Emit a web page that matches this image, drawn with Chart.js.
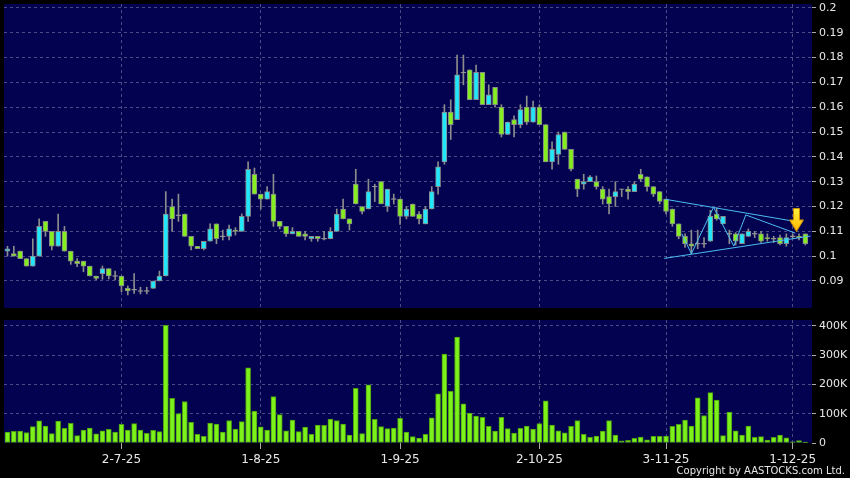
<!DOCTYPE html>
<html>
<head>
<meta charset="utf-8">
<script src="https://cdn.jsdelivr.net/npm/chart.js@4.4.1/dist/chart.umd.min.js"></script>
<style>
  body { margin: 0; background: #000; width: 850px; height: 478px; overflow: hidden; position: relative; }
  canvas { position: absolute; left: 0; }
  #priceChart { top: 0; }
  #volChart { top: 312px; }
  #copy { position: absolute; right: 5px; top: 465px; color: #e6e6e6; font: 10px 'DejaVu Sans', sans-serif; }
</style>
</head>
<body>
<canvas id="priceChart" width="850" height="312"></canvas>
<canvas id="volChart" width="850" height="166"></canvas>
<div id="copy">Copyright by AASTOCKS.com Ltd.</div>
<script>
// daily OHLC, one entry per trading day (index 0 = first candle)
const opens = [
  0.102, 0.101, 0.102, 0.099, 0.096, 0.100, 0.114, 0.110, 0.104, 0.110,
  0.102, 0.098, 0.098, 0.096, 0.092, 0.093, 0.095, 0.092, 0.092, 0.087,
  0.0865, 0.086, 0.086, 0.087, 0.090, 0.092, 0.120, 0.1165, 0.117, 0.108,
  0.104, 0.103, 0.106, 0.113, 0.108, 0.108, 0.1105, 0.110, 0.116, 0.133,
  0.125, 0.123, 0.125, 0.114, 0.112, 0.109, 0.110, 0.109, 0.107, 0.108,
  0.107, 0.107, 0.110, 0.119, 0.115, 0.129, 0.120, 0.119, 0.128, 0.130,
  0.120, 0.123, 0.123, 0.116, 0.121, 0.117, 0.113, 0.119, 0.128, 0.138,
  0.158, 0.155, 0.174, 0.175, 0.163, 0.174, 0.161, 0.168, 0.160, 0.149,
  0.155, 0.153, 0.160, 0.154, 0.160, 0.153, 0.138, 0.141, 0.150, 0.143,
  0.131, 0.129, 0.130, 0.130, 0.127, 0.124, 0.124, 0.127, 0.127, 0.126,
  0.133, 0.132, 0.128, 0.126, 0.123, 0.119, 0.113, 0.108, 0.105, 0.105,
  0.105, 0.106, 0.117, 0.113, 0.109, 0.109, 0.105, 0.108, 0.109, 0.109,
  0.1075, 0.107, 0.1075, 0.105, 0.108, 0.108, 0.109
];
const highs = [
  0.104, 0.104, 0.102, 0.099, 0.107, 0.115, 0.114, 0.110, 0.117, 0.112,
  0.102, 0.099, 0.098, 0.096, 0.092, 0.096, 0.095, 0.094, 0.092, 0.088,
  0.093, 0.0875, 0.0875, 0.090, 0.094, 0.126, 0.123, 0.125, 0.117, 0.108,
  0.104, 0.106, 0.113, 0.113, 0.1105, 0.1125, 0.1115, 0.117, 0.138, 0.1355,
  0.125, 0.128, 0.133, 0.114, 0.112, 0.1115, 0.110, 0.110, 0.108, 0.108,
  0.110, 0.1115, 0.119, 0.123, 0.115, 0.135, 0.120, 0.131, 0.129, 0.130,
  0.127, 0.125, 0.123, 0.120, 0.121, 0.118, 0.120, 0.128, 0.138, 0.161,
  0.163, 0.181, 0.181, 0.175, 0.177, 0.174, 0.169, 0.168, 0.161, 0.154,
  0.1565, 0.161, 0.1645, 0.1625, 0.161, 0.153, 0.146, 0.150, 0.150, 0.143,
  0.131, 0.133, 0.1325, 0.1323, 0.128, 0.127, 0.130, 0.127, 0.128, 0.130,
  0.135, 0.132, 0.128, 0.126, 0.123, 0.119, 0.113, 0.109, 0.1105, 0.1105,
  0.1075, 0.1185, 0.1195, 0.116, 0.1105, 0.1095, 0.109, 0.111, 0.110, 0.110,
  0.109, 0.108, 0.1085, 0.109, 0.109, 0.109, 0.109
];
const lows = [
  0.100, 0.100, 0.099, 0.096, 0.096, 0.100, 0.108, 0.1025, 0.104, 0.102,
  0.0967, 0.0958, 0.0937, 0.092, 0.0905, 0.0907, 0.0908, 0.0904, 0.0857, 0.0844,
  0.085, 0.0848, 0.0848, 0.087, 0.090, 0.092, 0.110, 0.114, 0.108, 0.1025,
  0.103, 0.1025, 0.106, 0.105, 0.1065, 0.1065, 0.1085, 0.110, 0.114, 0.125,
  0.119, 0.123, 0.112, 0.111, 0.108, 0.109, 0.108, 0.1065, 0.106, 0.106,
  0.1065, 0.107, 0.110, 0.115, 0.1105, 0.121, 0.117, 0.119, 0.122, 0.121,
  0.118, 0.121, 0.1128, 0.115, 0.116, 0.113, 0.113, 0.119, 0.125, 0.137,
  0.147, 0.155, 0.169, 0.163, 0.163, 0.161, 0.161, 0.160, 0.148, 0.149,
  0.148, 0.1517, 0.153, 0.154, 0.153, 0.138, 0.135, 0.137, 0.143, 0.1343,
  0.124, 0.127, 0.130, 0.127, 0.121, 0.117, 0.120, 0.124, 0.123, 0.126,
  0.130, 0.1262, 0.124, 0.121, 0.117, 0.112, 0.107, 0.1035, 0.101, 0.103,
  0.1035, 0.106, 0.1145, 0.113, 0.105, 0.1045, 0.105, 0.108, 0.1075, 0.1055,
  0.106, 0.1055, 0.1045, 0.104, 0.107, 0.1065, 0.1045
];
const closes = [
  0.103, 0.100, 0.099, 0.096, 0.100, 0.112, 0.110, 0.104, 0.110, 0.102,
  0.098, 0.097, 0.096, 0.092, 0.091, 0.095, 0.092, 0.092, 0.088, 0.086,
  0.0865, 0.086, 0.086, 0.090, 0.092, 0.117, 0.115, 0.1165, 0.108, 0.104,
  0.103, 0.106, 0.111, 0.107, 0.108, 0.111, 0.110, 0.116, 0.135, 0.125,
  0.123, 0.126, 0.114, 0.112, 0.109, 0.110, 0.108, 0.108, 0.108, 0.107,
  0.107, 0.110, 0.117, 0.115, 0.113, 0.121, 0.118, 0.126, 0.128, 0.121,
  0.127, 0.123, 0.116, 0.119, 0.116, 0.115, 0.119, 0.126, 0.136, 0.158,
  0.153, 0.173, 0.174, 0.163, 0.174, 0.161, 0.165, 0.161, 0.149, 0.154,
  0.153, 0.159, 0.154, 0.160, 0.153, 0.138, 0.143, 0.149, 0.143, 0.135,
  0.127, 0.130, 0.132, 0.128, 0.123, 0.121, 0.126, 0.127, 0.126, 0.129,
  0.131, 0.128, 0.125, 0.122, 0.118, 0.113, 0.108, 0.105, 0.104, 0.105,
  0.105, 0.116, 0.115, 0.116, 0.109, 0.106, 0.109, 0.110, 0.109, 0.106,
  0.107, 0.107, 0.105, 0.1075, 0.108, 0.1075, 0.105
];
// daily volume, thousands of shares
const volumes = [
  37, 40, 41, 36, 56, 76, 58, 32, 75, 50,
  67, 25, 44, 51, 31, 42, 47, 37, 64, 44,
  66, 44, 33, 43, 39, 402, 153, 101, 142, 71,
  30, 23, 68, 65, 37, 77, 48, 73, 257, 109,
  55, 44, 159, 97, 42, 78, 39, 54, 30, 61,
  60, 82, 77, 65, 27, 187, 32, 199, 81, 56,
  49, 51, 84, 37, 22, 17, 30, 86, 168, 304,
  177, 362, 134, 102, 92, 88, 57, 41, 88, 49,
  34, 50, 58, 48, 66, 144, 61, 42, 35, 57,
  77, 30, 19, 24, 41, 77, 27, 7, 9, 16,
  20, 11, 23, 23, 24, 57, 64, 78, 58, 154,
  94, 172, 147, 25, 106, 42, 27, 58, 19, 22,
  10, 19, 27, 18, 4, 8, 3
];

const dateTickIdx = [18, 40, 62, 84, 104, 124];
const dateTickLabels = ['2-7-25', '1-8-25', '1-9-25', '2-10-25', '3-11-25', '1-12-25'];
const priceTicks = [0.09, 0.1, 0.11, 0.12, 0.13, 0.14, 0.15, 0.16, 0.17, 0.18, 0.19, 0.2];
const volTicks = [0, 100000, 200000, 300000, 400000];
const volTickLabels = ['0', '100K', '200K', '300K', '400K'];

// triangle drawn on the chart (index, price)
const triUpper = [{ x: 103.9, y: 0.1229 }, { x: 125.5, y: 0.1135 }];
const triLower = [{ x: 103.7, y: 0.0991 }, { x: 126.8, y: 0.1081 }];
const zigzag = [
  { x: 106.5, y: 0.109 }, { x: 108, y: 0.101 }, { x: 111.5, y: 0.1197 },
  { x: 114.7, y: 0.1041 }, { x: 116.6, y: 0.1166 }, { x: 124.4, y: 0.1093 }
];
const arrowAt = [{ x: 124.6, y: 0.1146 }];

const NAVY = '#020250';
const GRID = 'rgba(150,150,185,0.5)';
const UP = '#22e6fa';
const DOWN = '#84ee1e';
const FLAT = '#a0a0a0';
const LABEL = '#e8e8e8';
const X_MIN = -0.55, X_MAX = 127.05;

const plotBg = {
  id: 'plotBg',
  beforeDraw(chart) {
    const { ctx, chartArea: a } = chart;
    ctx.save();
    ctx.fillStyle = NAVY;
    ctx.fillRect(a.left, a.top, a.right - a.left, a.bottom - a.top);
    ctx.restore();
  }
};

const setTicks = values => scale => { scale.ticks = values.map(v => ({ value: v })); };

const idx = opens.map((_, i) => i);
const wickData = idx.map(i => ({ x: i, y: [lows[i], highs[i]] }));
const bodyData = idx.map(i => {
  let lo = Math.min(opens[i], closes[i]);
  let hi = Math.max(opens[i], closes[i]);
  if (hi - lo < 0.0003) {
    const m = (lo + hi) / 2;
    lo = m - 0.00015;
    hi = m + 0.00015;
  }
  return { x: i, y: [lo, hi] };
});
const bodyColors = idx.map(i => closes[i] > opens[i] ? UP : closes[i] < opens[i] ? DOWN : FLAT);

function makeArrow() {
  const c = document.createElement('canvas');
  c.width = 15;
  c.height = 24;
  const g = c.getContext('2d');
  const grad = g.createLinearGradient(0, 0, 0, 24);
  grad.addColorStop(0, '#fff23c');
  grad.addColorStop(1, '#ffb400');
  g.fillStyle = grad;
  g.strokeStyle = '#c98a00';
  g.beginPath();
  g.moveTo(4.5, 0.5); g.lineTo(10.5, 0.5); g.lineTo(10.5, 12);
  g.lineTo(14.5, 12); g.lineTo(7.5, 23.5); g.lineTo(0.5, 12); g.lineTo(4.5, 12);
  g.closePath();
  g.fill();
  g.stroke();
  return c;
}

const trendLine = (data) => ({
  type: 'line', data, borderColor: '#4cbcf0', borderWidth: 1,
  pointRadius: 0, fill: false, tension: 0, order: 2
});

Chart.defaults.font.family = "'DejaVu Sans', sans-serif";
Chart.defaults.animation = false;

new Chart(document.getElementById('priceChart'), {
  type: 'bar',
  data: {
    datasets: [
      { data: wickData, backgroundColor: '#8c8c8c', barThickness: 1, grouped: false, order: 4 },
      {
        data: bodyData, backgroundColor: bodyColors, borderColor: '#8a8a8a', borderWidth: 1,
        borderSkipped: false, barThickness: 5, grouped: false, order: 3
      },
      trendLine(triUpper),
      trendLine(triLower),
      trendLine(zigzag),
      { type: 'line', data: arrowAt, showLine: false, pointStyle: makeArrow(), pointRadius: 10, order: 1 }
    ]
  },
  options: {
    responsive: false,
    events: [],
    layout: { autoPadding: false, padding: { left: 4, top: 4, right: 0, bottom: 4 } },
    plugins: { legend: { display: false }, tooltip: { enabled: false } },
    scales: {
      x: {
        type: 'linear', min: X_MIN, max: X_MAX, offset: false,
        afterBuildTicks: setTicks(dateTickIdx),
        afterFit: s => { s.height = 0; s.paddingLeft = 0; s.paddingRight = 0; },
        ticks: { display: false },
        grid: { color: GRID, drawTicks: false, offset: false },
        border: { display: false, dash: [3, 3] }
      },
      y: {
        position: 'right', min: 0.079126, max: 0.201559,
        afterBuildTicks: setTicks(priceTicks),
        afterFit: s => { s.width = 38; s.paddingTop = 0; s.paddingBottom = 0; },
        ticks: {
          color: LABEL, font: { size: 11 }, padding: 3,
          callback: v => String(+v.toFixed(2))
        },
        grid: { color: GRID, tickLength: 4, tickColor: '#aaaaaa', tickBorderDash: [] },
        border: { display: false, dash: [3, 3] }
      }
    }
  },
  plugins: [plotBg]
});

new Chart(document.getElementById('volChart'), {
  type: 'bar',
  data: {
    datasets: [{
      data: idx.map(i => ({ x: i, y: volumes[i] * 1000 })),
      backgroundColor: '#7cf21a', borderColor: '#4d9c10', borderWidth: 1,
      borderSkipped: false, barThickness: 5, grouped: false
    }]
  },
  options: {
    responsive: false,
    events: [],
    layout: { autoPadding: false, padding: { left: 4, top: 8, right: 0, bottom: 0 } },
    plugins: { legend: { display: false }, tooltip: { enabled: false } },
    scales: {
      x: {
        type: 'linear', min: X_MIN, max: X_MAX, offset: false,
        afterBuildTicks: setTicks(dateTickIdx),
        afterFit: s => { s.height = 35; s.paddingLeft = 0; s.paddingRight = 0; },
        ticks: {
          color: LABEL, font: { size: 12 }, padding: 4, maxRotation: 0, autoSkip: false,
          callback: v => dateTickLabels[dateTickIdx.indexOf(v)]
        },
        grid: { color: GRID, tickLength: 6, tickColor: '#aaaaaa', tickBorderDash: [], offset: false },
        border: { display: false, dash: [3, 3] }
      },
      y: {
        position: 'right', min: 0, max: 420500,
        afterBuildTicks: setTicks(volTicks),
        afterFit: s => { s.width = 38; s.paddingTop = 0; s.paddingBottom = 0; },
        ticks: {
          color: LABEL, font: { size: 11 }, padding: 3,
          callback: v => volTickLabels[volTicks.indexOf(v)]
        },
        grid: {
          color: c => (c.tick && c.tick.value === 0 ? 'rgba(0,0,0,0)' : GRID),
          tickLength: 4, tickColor: '#aaaaaa', tickBorderDash: []
        },
        border: { display: false, dash: [3, 3] }
      }
    }
  },
  plugins: [plotBg]
});
</script>
</body>
</html>
